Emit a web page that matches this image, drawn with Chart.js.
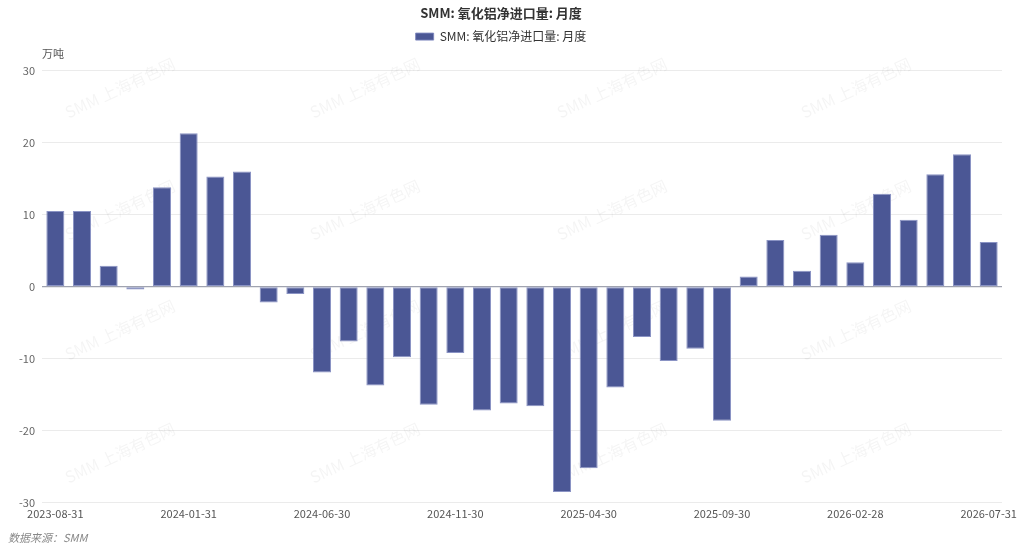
<!DOCTYPE html>
<html>
<head>
<meta charset="utf-8">
<script src="https://cdn.jsdelivr.net/npm/chart.js@4"></script>
<style>
  html, body { margin: 0; padding: 0; background: #fff; }
  #wrap { width: 1024px; height: 552px; position: relative; }
</style>
</head>
<body>
<div id="wrap"><canvas id="importChart"></canvas></div>
<script>
const months = [
  '2023-08-31', '2023-09-30', '2023-10-31', '2023-11-30', '2023-12-31',
  '2024-01-31', '2024-02-29', '2024-03-31', '2024-04-30', '2024-05-31',
  '2024-06-30', '2024-07-31', '2024-08-31', '2024-09-30', '2024-10-31',
  '2024-11-30', '2024-12-31', '2025-01-31', '2025-02-28', '2025-03-31',
  '2025-04-30', '2025-05-31', '2025-06-30', '2025-07-31', '2025-08-31',
  '2025-09-30', '2025-10-31', '2025-11-30', '2025-12-31', '2026-01-31',
  '2026-02-28', '2026-03-31', '2026-04-30', '2026-05-31', '2026-06-30',
  '2026-07-31'
];
const netImports = [
  10.5, 10.5, 2.9, -0.4, 13.8, 21.3, 15.3, 16.0, -2.2, -1.0,
  -11.9, -7.6, -13.7, -9.8, -16.4, -9.2, -17.2, -16.2, -16.6, -28.5,
  -25.2, -14.0, -7.0, -10.3, -8.6, -18.6, 1.4, 6.5, 2.2, 7.2,
  3.4, 12.9, 9.3, 15.6, 18.4, 6.2
];
const yTicks = [-30, -20, -10, 0, 10, 20, 30];
const seriesName = 'SMM: 氧化铝净进口量: 月度';
const cjk = "'Noto Sans CJK SC', 'Noto Sans', sans-serif";

// extra room under the legend for the unit label
const legendGap = {
  id: 'legendGap',
  afterInit(chart) {
    const fit = chart.legend.fit;
    chart.legend.fit = function () {
      fit.call(this);
      this.height += 18;
    };
  }
};

// watermark, unit label and source note
const decor = {
  id: 'decor',
  beforeDatasetsDraw(chart) {
    const ctx = chart.ctx;
    ctx.save();
    ctx.font = '16px ' + cjk;
    ctx.fillStyle = 'rgba(0,0,0,0.045)';
    ctx.textAlign = 'center';
    ctx.textBaseline = 'middle';
    [120, 365, 612, 856].forEach(x => {
      [88, 210, 330, 453].forEach(y => {
        ctx.save();
        ctx.translate(x, y);
        ctx.rotate(-25 * Math.PI / 180);
        ctx.fillText('SMM 上海有色网', 0, 0);
        ctx.restore();
      });
    });
    ctx.restore();
  },
  afterDraw(chart) {
    const ctx = chart.ctx;
    ctx.save();
    ctx.font = '11px ' + cjk;
    ctx.fillStyle = '#555';
    ctx.textBaseline = 'middle';
    ctx.fillText('万吨', 42, 54);
    ctx.font = 'italic 11px ' + cjk;
    ctx.fillStyle = '#888';
    ctx.fillText('数据来源：SMM', 8, 538);
    ctx.restore();
  }
};

new Chart(document.getElementById('importChart'), {
  type: 'bar',
  data: {
    labels: months,
    datasets: [{
      label: seriesName,
      data: netImports,
      backgroundColor: '#4b5795',
      borderColor: 'rgba(125,135,190,0.9)',
      borderWidth: 1,
      borderSkipped: false,
      barPercentage: 0.675,
      categoryPercentage: 1
    }]
  },
  options: {
    responsive: true,
    maintainAspectRatio: false,
    animation: false,
    layout: { padding: { left: 0, right: 22, top: 0, bottom: 28 } },
    plugins: {
      title: {
        display: true,
        text: seriesName,
        color: '#333',
        font: { family: cjk, size: 13, weight: 'bold' },
        padding: { top: 5, bottom: 4 }
      },
      legend: {
        labels: {
          color: '#333',
          font: { family: cjk, size: 12 },
          boxWidth: 18,
          boxHeight: 7,
          padding: 6
        }
      },
      tooltip: { enabled: false }
    },
    scales: {
      x: {
        grid: { display: false, drawTicks: false },
        border: { display: false },
        ticks: {
          color: '#555',
          font: { family: cjk, size: 11 },
          autoSkip: false,
          maxRotation: 0,
          padding: 4,
          callback: function (v, i) { return i % 5 === 0 ? this.getLabelForValue(v) : ''; }
        }
      },
      y: {
        min: -30,
        max: 30,
        afterBuildTicks: s => { s.ticks = yTicks.map(v => ({ value: v })); },
        afterFit: s => { s.width = 42; },
        border: { display: false },
        grid: {
          drawTicks: false,
          color: c => c.tick && c.tick.value === 0 ? '#a0a3b0' : '#ebebeb',
          lineWidth: c => c.tick && c.tick.value === 0 ? 1.2 : 1
        },
        ticks: {
          color: '#666',
          font: { family: cjk, size: 11 },
          padding: 7
        }
      }
    }
  },
  plugins: [legendGap, decor]
});
</script>
</body>
</html>
